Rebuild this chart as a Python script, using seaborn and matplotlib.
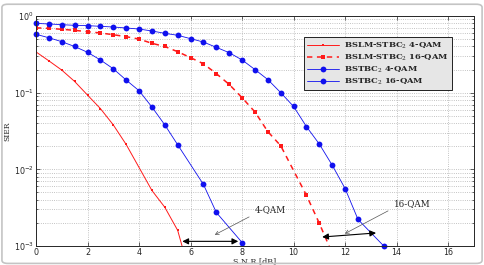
import matplotlib
matplotlib.use("Agg")
import matplotlib.pyplot as plt
import seaborn as sns
import pandas as pd
from matplotlib.patches import FancyBboxPatch

# SNR [dB] / SIER values
snr_bslm_4 = [0, 0.5, 1, 1.5, 2, 2.5, 3, 3.5, 4.5, 5, 5.5, 6]
sier_bslm_4 = [0.34, 0.26, 0.197, 0.140, 0.093, 0.062, 0.038, 0.0211, 0.0053, 0.0032, 0.0016, 0.0004]

snr_bslm_16 = [0, 0.5, 1, 1.5, 2, 2.5, 3, 3.5, 4, 4.5, 5, 5.5, 6, 6.5, 7, 7.5, 8, 8.5, 9, 9.5, 10.5, 11, 11.5]
sier_bslm_16 = [0.70, 0.69, 0.67, 0.65, 0.624, 0.60, 0.57, 0.537, 0.50, 0.44, 0.40, 0.342, 0.286, 0.238,
                0.177, 0.128, 0.086, 0.056, 0.031, 0.0203, 0.00457, 0.00197, 0.0008]

snr_bstbc_4 = [0, 0.5, 1, 1.5, 2, 2.5, 3, 3.5, 4, 4.5, 5, 5.5, 6.5, 7, 8]
sier_bstbc_4 = [0.577, 0.52, 0.462, 0.40, 0.336, 0.267, 0.205, 0.146, 0.106, 0.065, 0.038, 0.0209,
                0.00635, 0.00274, 0.00111]

snr_bstbc_16 = [0, 0.5, 1, 1.5, 2, 2.5, 3, 3.5, 4, 4.5, 5, 5.5, 6, 6.5, 7, 7.5, 8, 8.5, 9, 9.5, 10, 10.5,
                11, 11.5, 12, 12.5, 13.5]
sier_bstbc_16 = [0.80, 0.787, 0.77, 0.755, 0.748, 0.733, 0.718, 0.697, 0.676, 0.637, 0.594, 0.56, 0.506,
                 0.457, 0.39, 0.332, 0.267, 0.20, 0.148, 0.100, 0.066, 0.036, 0.0213, 0.0113, 0.0056,
                 0.00222, 0.001]

labels = ["BSLM-STBC$_2$ 4-QAM", "BSLM-STBC$_2$ 16-QAM", "BSTBC$_2$ 4-QAM", "BSTBC$_2$ 16-QAM"]

sns.set_style("ticks")
plt.rcParams["mathtext.fontset"] = "dejavuserif"

fig = plt.figure(figsize=(4.85, 2.65), dpi=100)
ax = fig.add_axes([0.0742, 0.0717, 0.903, 0.868])

red = "#ff1a1a"
blue = "#1010ee"

sns.lineplot(x=snr_bslm_4, y=sier_bslm_4, ax=ax, color=red, lw=0.7, marker="s", markersize=2.0,
             markeredgewidth=0, label=labels[0])
sns.lineplot(x=snr_bslm_16, y=sier_bslm_16, ax=ax, color=red, lw=1.1, marker="s", markersize=2.4,
             markeredgewidth=0, dashes=(3.5, 3), label=labels[1])
sns.lineplot(x=snr_bstbc_4, y=sier_bstbc_4, ax=ax, color=blue, lw=0.6, marker="o", markersize=4.2,
             markeredgewidth=0, label=labels[2], clip_on=False)
sns.lineplot(x=snr_bstbc_16, y=sier_bstbc_16, ax=ax, color=blue, lw=0.6, marker="o", markersize=4.2,
             markeredgewidth=0, label=labels[3], clip_on=False)

ax.set_yscale("log")
ax.set_xlim(0, 17)
ax.set_ylim(1e-3, 1)
ax.set_xticks(range(0, 17, 2))

ax.grid(True, which="major", ls=":", lw=0.6, color="#b0b0b0")
ax.grid(True, which="minor", axis="y", ls=":", lw=0.6, color="#b0b0b0")
ax.tick_params(which="both", direction="in", top=True, right=True, labelsize=5.8, width=0.5, pad=1.5)
ax.tick_params(which="major", length=3)
ax.tick_params(which="minor", length=1.5)
for s in ax.spines.values():
    s.set_linewidth(0.7)

ax.set_xlabel("S N R [dB]", family="DejaVu Serif", fontsize=5.8, labelpad=0.5)
ax.set_ylabel("SIER", family="DejaVu Serif", fontsize=5.5, labelpad=2)

leg = ax.legend(loc="upper left", bbox_to_anchor=(0.611, 0.907), frameon=True, fancybox=False,
                prop={"family": "DejaVu Serif", "weight": "bold", "size": 6.0},
                handlelength=3.8, labelspacing=0.22, borderpad=0.4, handletextpad=0.7, borderaxespad=0)
leg.get_frame().set_facecolor("#e6e6e6")
leg.get_frame().set_edgecolor("black")
leg.get_frame().set_linewidth(0.6)
leg.get_frame().set_alpha(1)

# double arrows and pointers
ax.annotate("", xy=(5.68, 0.00115), xytext=(7.85, 0.00115),
            arrowprops=dict(arrowstyle="<|-|>", color="black", lw=0.8, mutation_scale=9,
                            shrinkA=0, shrinkB=0))
ax.annotate("4-QAM", xy=(6.94, 0.0014), xytext=(9.1, 0.003), ha="center", va="center",
            family="DejaVu Serif", fontsize=6.3,
            arrowprops=dict(arrowstyle="->", color="#555555", lw=0.5, relpos=(0, 0), shrinkB=0))
ax.annotate("", xy=(11.11, 0.00131), xytext=(13.2, 0.00148),
            arrowprops=dict(arrowstyle="<|-|>", color="black", lw=0.8, mutation_scale=9,
                            shrinkA=0, shrinkB=0))
ax.annotate("16-QAM", xy=(11.99, 0.00145), xytext=(14.6, 0.0036), ha="center", va="center",
            family="DejaVu Serif", fontsize=6.3,
            arrowprops=dict(arrowstyle="->", color="#555555", lw=0.5, relpos=(0, 0), shrinkB=0))

# light frame around the whole picture
fig.patches.append(FancyBboxPatch((0.004, 0.006), 0.99, 0.978, boxstyle="round,pad=0,rounding_size=0.012",
                                  transform=fig.transFigure, fill=False, edgecolor="#c4c4c4", lw=1.2))

fig.savefig("out.png", dpi=100)
